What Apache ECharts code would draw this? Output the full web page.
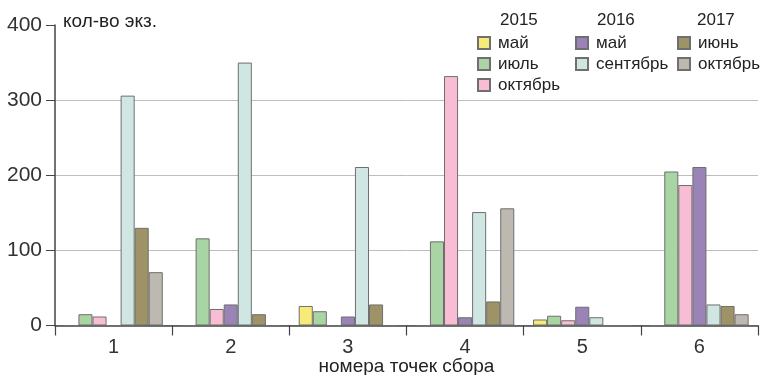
<!DOCTYPE html>
<html><head><meta charset="utf-8">
<script src="https://cdn.jsdelivr.net/npm/echarts@6/dist/echarts.min.js"></script>
<style>html,body{margin:0;padding:0;background:#fff}#c{width:763px;height:375px}</style>
</head><body><div id="c"></div>
<script>
const categories = ['1','2','3','4','5','6'];
const seriesNames = ['2015 май','2015 июль','2015 октябрь','2016 май','2016 сентябрь','2017 июнь','2017 октябрь'];
const may2015  = [0, 0, 26, 0, 8, 0];
const jul2015  = [15, 116, 19, 112, 13, 205];
const oct2015  = [12, 22, 0, 332, 7, 187];
const may2016  = [0, 28, 12, 11, 25, 211];
const sep2016  = [306, 350, 211, 151, 11, 28];
const jun2017  = [130, 15, 28, 32, 0, 26];
const oct2017  = [71, 0, 0, 156, 0, 15];
const yTicks = [0, 100, 200, 300, 400];
const values = [may2015, jul2015, oct2015, may2016, sep2016, jun2017, oct2017];
const colors = ['#f6ea78','#a9d4a3','#f8bdd5','#9a83b7','#cfe6e3','#9d9366','#bdb9b1'];

const font = '"Liberation Sans", Arial, sans-serif';
const series = seriesNames.map((n, i) => ({
  name: n, type: 'bar', data: values[i], barGap: 0, barCategoryGap: '16%',
  itemStyle: { color: colors[i], borderColor: '#6f6f6f', borderWidth: 1 },
  emphasis: { disabled: true }
}));
const legendBase = {
  orient: 'vertical', itemWidth: 12, itemHeight: 12, itemGap: 3,
  icon: 'rect', selectedMode: false, padding: 0,
  textStyle: { fontFamily: font, fontSize: 17, color: '#222', lineHeight: 18, padding: [0,0,0,3] },
  formatter: n => n.split(' ')[1]
};
const chart = echarts.init(document.getElementById('c'));
chart.setOption({
  animation: false,
  color: colors,
  grid: { left: 55, right: 5, top: 25, bottom: 49.5, containLabel: false, outerBoundsMode: 'none' },
  xAxis: {
    type: 'category', data: categories,
    axisLine: { lineStyle: { color: '#444', width: 1.5 } },
    axisTick: { show: true, length: 10, lineStyle: { color: '#444', width: 1.2 } },
    axisLabel: { fontFamily: font, fontSize: 20, color: '#333', margin: 12 },
    name: 'номера точек сбора', nameLocation: 'middle', nameGap: 32, nameMoveOverlap: false,
    nameTextStyle: { fontFamily: font, fontSize: 19, color: '#222' }
  },
  yAxis: {
    type: 'value', min: 0, max: 400, interval: 100,
    axisLine: { show: true, lineStyle: { color: '#444', width: 1.5 } },
    axisTick: { show: true, length: 9, lineStyle: { color: '#444' } },
    axisLabel: { fontFamily: font, fontSize: 21, color: '#333', margin: 13,
                 formatter: v => yTicks.includes(v) ? String(v) : '' },
    splitLine: { show: true, showMaxLine: false, lineStyle: { color: '#bdbdbd', width: 1 } }
  },
  legend: [
    Object.assign({}, legendBase, { left: 477, top: 34, data: seriesNames.slice(0,3) }),
    Object.assign({}, legendBase, { left: 575, top: 34, data: seriesNames.slice(3,5) }),
    Object.assign({}, legendBase, { left: 677, top: 34, data: seriesNames.slice(5,7) })
  ],
  graphic: [
    { type: 'text', left: 63, top: 12, style: { text: 'кол-во экз.', font: '19px ' + font, fill: '#222' } },
    { type: 'text', left: 500, top: 12, style: { text: '2015', font: '17px ' + font, fill: '#222' } },
    { type: 'text', left: 597, top: 12, style: { text: '2016', font: '17px ' + font, fill: '#222' } },
    { type: 'text', left: 697, top: 12, style: { text: '2017', font: '17px ' + font, fill: '#222' } }
  ],
  series: series
});
</script></body></html>
